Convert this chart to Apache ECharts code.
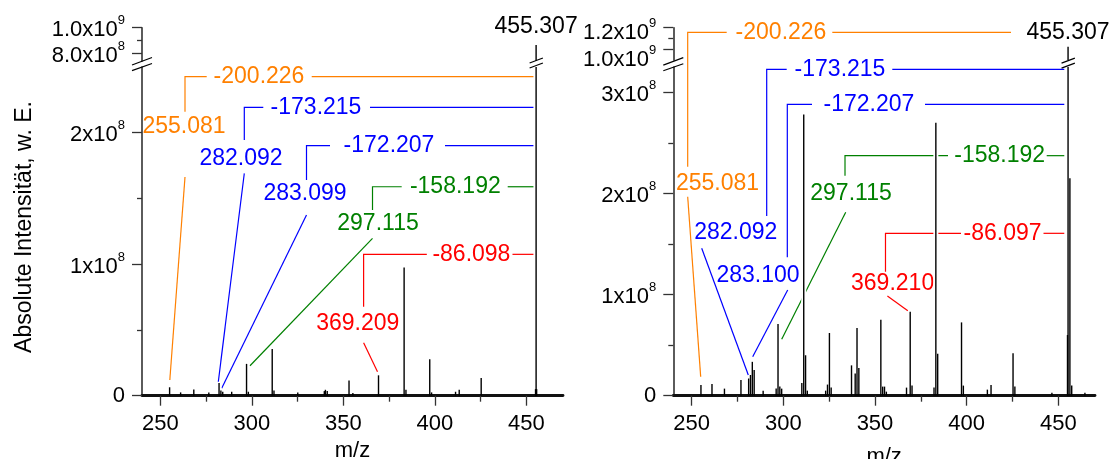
<!DOCTYPE html>
<html><head><meta charset="utf-8">
<script src="https://cdn.jsdelivr.net/npm/echarts@6/dist/echarts.min.js"></script>
<style>html,body{margin:0;padding:0;background:#fff}#c{width:1112px;height:459px}</style>
</head><body><div id="c"></div>
<script>
// ------------------------- DATA -------------------------
const mzMin = 240, mzMax = 470;
const xTicks = [250, 300, 350, 400, 450];
const xMinorTicks = [275, 325, 375, 425];
const xTitle = 'm/z';
const yTitle = 'Absolute Intensität, w. E.';

// left spectrum (stick peaks)
const leftMz = [255.081, 261.1, 268.3, 276.5, 282.092, 283.099, 284.1, 289.0, 297.115, 298.1, 311.14, 312.1, 325.1, 339.6, 340.2, 341.2, 353.1, 355.2, 369.209, 383.2, 384.2, 397.2, 398.2, 411.3, 413.3, 425.3, 455.0, 455.307, 455.6];
const leftIntensity = [6.4e6, 2.5e6, 4.8e6, 2.5e6, 9.7e6, 4.0e6, 3.0e6, 3.0e6, 2.42e7, 3.0e6, 3.55e7, 4.0e6, 2.5e6, 3.5e6, 4.5e6, 3.5e6, 1.15e7, 2.0e6, 1.55e7, 9.75e7, 4.5e6, 2.78e7, 2.5e6, 3.0e6, 4.5e6, 1.35e7, 5.0e6, 8.65e8, 5.0e6];

// right spectrum (stick peaks)
const rightMz = [255.081, 261.1, 267.9, 276.9, 281.1, 282.092, 283.100, 284.1, 289.0, 296.1, 297.115, 298.1, 299.1, 310.1, 311.14, 312.14, 313.1, 323.1, 324.1, 325.15, 326.1, 337.2, 339.2, 340.2, 341.2, 353.2, 354.2, 355.2, 356.2, 367.2, 369.210, 370.2, 382.2, 383.2, 384.2, 397.2, 398.2, 411.3, 413.3, 425.3, 426.3, 446.5, 455.0, 455.307, 456.31, 457.3, 464.5];
const rightIntensity = [1.05e7, 1.15e7, 7e6, 1.55e7, 1.7e7, 2.05e7, 3.35e7, 2.55e7, 5e6, 7e6, 7.1e7, 9e6, 7e6, 1.25e7, 2.78e8, 4.0e7, 5e6, 5e6, 1.1e7, 6.2e7, 8e6, 3.0e7, 2.2e7, 6.7e7, 2.75e7, 7.5e7, 9e6, 9e6, 4e6, 8e6, 8.3e7, 1.0e7, 8e6, 2.70e8, 4.15e7, 7.25e7, 1.0e7, 6e6, 1.05e7, 4.2e7, 9e6, 3e6, 6e7, 1.024e9, 2.15e8, 1.0e7, 3e6];

// y axis ranges (broken axes) and ticks
const leftLowerRange = [0, 2.5e8];
const leftUpperRange = [7.4e8, 1.0e9];
const rightLowerRange = [0, 3.25e8];
const rightUpperRange = [0.9e9, 1.2e9];
const leftLowerTicks = [0, 1e8, 2e8];
const leftLowerTickLabels = ['0', '1x10^8', '2x10^8'];
const leftLowerMinor = [0.5e8, 1.5e8];
const leftUpperTicks = [8e8, 1e9];
const leftUpperTickLabels = ['8.0x10^8', '1.0x10^9'];
const leftUpperMinor = [9e8];
const rightLowerTicks = [0, 1e8, 2e8, 3e8];
const rightLowerTickLabels = ['0', '1x10^8', '2x10^8', '3x10^8'];
const rightLowerMinor = [0.5e8, 1.5e8, 2.5e8];
const rightUpperTicks = [1.0e9, 1.2e9];
const rightUpperTickLabels = ['1.0x10^9', '1.2x10^9'];
const rightUpperMinor = [1.1e9];

// annotations
const parentMz = 455.307;
const parentLabel = '455.307';
const leftFragLabels = ['255.081', '282.092', '283.099', '297.115', '369.209'];
const leftFragDiffs = ['-200.226', '-173.215', '-172.207', '-158.192', '-86.098'];
const rightFragLabels = ['255.081', '282.092', '283.100', '297.115', '369.210'];
const rightFragDiffs = ['-200.226', '-173.215', '-172.207', '-158.192', '-86.097'];

// ------------------------- LAYOUT / STYLE -------------------------
const FONT = '"Liberation Sans", Arial, Helvetica, sans-serif';
const ANN_FONT_SIZE = 23;
const TICK_FONT_SIZE = 22;
const fragColors = ['#FF8000', '#0000FF', '#0000FF', '#008000', '#FF0000'];
// annotation geometry in data units: [m/z, intensity in 1e6]
const leftAnnLayout = [
  {slant: [[255.2, 12], [263.49, 166.3]], label: [262.95, 204.3], stem: [263.49, 216, 242.6], gap: [275.35, 332.71], text: 303.92, end: 454.0},
  {slant: [[281.68, 10.6], [295.89, 169.1]], label: [294.09, 180.5], stem: [295.89, 194.4, 219.3], gap: [306.27, 364.56], text: 335.06, end: 454.0},
  {slant: [[283.54, 5.6], [329.87, 137.4]], label: [329.05, 153.9], stem: [329.87, 164.0, 190.1], gap: [342.71, 405.54], text: 374.94, end: 454.0},
  {slant: [[299.0, 22.8], [365.93, 119.7]], label: [368.93, 130.6], stem: [365.93, 141.2, 158.9], gap: [381.88, 439.79], text: 411.17, end: 454.0},
  {slant: [[361.07, 40.3], [368.66, 18.25]], label: [357.84, 55.06], stem: [361.07, 67.7, 107.5], gap: [395.6, 442.4], text: 419.96, end: 454.0}
];
const leftParentAt = [455.307, 280.4];
const rightAnnLayout = [
  {slant: [[254.94, 18.8], [247.85, 196.8]], label: [264.11, 210.1], stem: [247.85, 226.5, 359.4], gap: [269.12, 326.72], text: 298.74, end: 424.18},
  {slant: [[280.91, 20.5], [255.49, 145.8]], label: [274.09, 161.6], stem: [290.94, 177.7, 322.8], gap: [301.85, 359.44], text: 330.92, end: 453.25},
  {slant: [[283.3, 38.6], [302.39, 104.5]], label: [286.2, 118.4], stem: [302.18, 136.9, 288.2], gap: [315.65, 377.28], text: 346.73, end: 453.25},
  {slant: [[299.12, 55.8], [334.03, 181.4]], label: [336.92, 200.2], stem: [333.65, 217.6, 237.4], gap: [389.82, 443.65], text: 418.02, end: 453.25},
  {slant: [[356.77, 98.6], [367.9, 84.1]], label: [359.61, 111.2], stem: [355.73, 122.7, 160.6], gap: [396.91, 441.91], text: 419.55, end: 453.25}
];
const rightParentAt = [455.307, 359.4];
const BREAK_AXIS = [[-10, 3.7, 10, -3.4], [-10, -2, 10, -9.5]];
const BREAK_PEAK = [[-6.5, 1, 6.8, -4], [-6.5, -4, 6.8, -9]];
const AXIS_COLOR = '#333';

const RICH = {
  a: {fontSize: TICK_FONT_SIZE, lineHeight: 27, verticalAlign: 'bottom', fontFamily: FONT, color: '#000'},
  s: {fontSize: 13, lineHeight: 13, verticalAlign: 'top', fontFamily: FONT, color: '#000'},
  z: {fontSize: TICK_FONT_SIZE, lineHeight: 27, fontFamily: FONT, color: '#000'}
};

function tickFmt(ticks, labels) {
  return function (v) {
    const k = ticks.findIndex(t => Math.abs(t - v) <= 1e-6 * Math.max(1, Math.abs(t)));
    const s = k >= 0 ? labels[k] : '';
    const m = s.split('^');
    return m.length > 1 ? '{a|' + m[0] + '}{s|' + m[1] + '}' : '{z|' + s + '}';
  };
}

// main y axis: line + major ticks + labels at labelValues
function yMain(grid, range, ticks, labels, labelValues, padTop, showLine) {
  return {
    type: 'value', gridIndex: grid, min: range[0], max: range[1], position: 'left',
    axisLine: {show: showLine, onZero: false, lineStyle: {color: AXIS_COLOR, width: 1.6}},
    axisTick: {show: showLine, inside: false, length: 10, customValues: ticks, lineStyle: {color: AXIS_COLOR, width: 1.3}},
    axisLabel: {show: true, customValues: labelValues, margin: 17, hideOverlap: false,
      padding: [padTop || 0, 0, 0, 0], formatter: tickFmt(ticks, labels), rich: RICH},
    splitLine: {show: false}
  };
}
function yMinor(grid, range, ticks) {
  return {
    type: 'value', gridIndex: grid, min: range[0], max: range[1], position: 'left',
    axisLine: {show: false},
    axisTick: {show: true, inside: false, length: 5, customValues: ticks, lineStyle: {color: AXIS_COLOR, width: 1.3}},
    axisLabel: {show: false}, splitLine: {show: false}
  };
}
function xMain(grid, nameGap) {
  return {
    type: 'value', gridIndex: grid, min: mzMin, max: mzMax, position: 'bottom',
    axisLine: {show: true, onZero: false, lineStyle: {color: '#111', width: 2.8}},
    axisTick: {show: true, length: 10, customValues: xTicks, lineStyle: {color: AXIS_COLOR, width: 1.3}},
    axisLabel: {show: true, customValues: xTicks, margin: 17, hideOverlap: false, fontSize: TICK_FONT_SIZE, fontFamily: FONT, color: '#000'},
    splitLine: {show: false},
    name: xTitle, nameLocation: 'middle', nameGap: nameGap,
    nameTextStyle: {fontSize: TICK_FONT_SIZE, fontFamily: FONT, color: '#000', verticalAlign: 'middle'}
  };
}
function xMinor(grid) {
  return {
    type: 'value', gridIndex: grid, min: mzMin, max: mzMax, position: 'bottom',
    axisLine: {show: false},
    axisTick: {show: true, length: 6, customValues: xMinorTicks, lineStyle: {color: AXIS_COLOR, width: 1.3}},
    axisLabel: {show: false}, splitLine: {show: false}
  };
}
function xHidden(grid) {
  return {type: 'value', gridIndex: grid, min: mzMin, max: mzMax, show: false, splitLine: {show: false}};
}

function peakRenderer(halo) {
  return function (params, api) {
    const cs = params.coordSys;
    const mz = api.value(0), v = api.value(1);
    const pBase = api.coord([mz, 0]);
    const pTop = api.coord([mz, v]);
    const top = cs.y, bottom = cs.y + cs.height;
    let y0 = Math.min(pBase[1], bottom);
    if (halo) y0 -= 3;
    const y1 = Math.max(pTop[1], top);
    if (y1 >= y0) return null;
    const x = pBase[0];
    return {type: 'line', silent: true, shape: {x1: x, y1: y0, x2: x, y2: y1},
      style: {stroke: halo ? '#fff' : '#000', lineWidth: halo ? 5 : 1.4}};
  };
}
function breakRenderer(params, api) {
  const p = api.coord([api.value(0), api.value(1)]);
  const segs = api.value(2) === 0 ? BREAK_AXIS : BREAK_PEAK;
  return {type: 'group', children: segs.map(s => ({type: 'line', silent: true,
    shape: {x1: p[0] + s[0], y1: p[1] + s[1], x2: p[0] + s[2], y2: p[1] + s[3]},
    style: {stroke: '#000', lineWidth: 1.2}}))};
}
function annRenderer(layout, labels, diffs, parentAt) {
  return function (params, api) {
    const i = api.value(2);
    const P = (mz, I) => api.coord([mz, I * 1e6]);
    const txt = (s, p, color) => ({type: 'text', x: p[0], y: p[1], silent: true,
      style: {text: s, fill: color, fontSize: ANN_FONT_SIZE, fontFamily: FONT, align: 'center', verticalAlign: 'middle'}});
    if (i < 0) return txt(parentLabel, P(parentAt[0], parentAt[1]), '#000');
    const a = layout[i], col = fragColors[i];
    const ln = pts => ({type: 'polyline', silent: true, shape: {points: pts.map(q => P(q[0], q[1]))},
      style: {stroke: col, lineWidth: 1.2, fill: null}});
    const lev = a.stem[2];
    return {type: 'group', children: [
      ln(a.slant),
      ln([[a.stem[0], a.stem[1]], [a.stem[0], lev], [a.gap[0], lev]]),
      ln([[a.gap[1], lev], [a.end, lev]]),
      txt(labels[i], P(a.label[0], a.label[1]), col),
      txt(diffs[i], P(a.text, lev), col)
    ]};
  };
}

const leftData = leftMz.map((m, i) => [m, leftIntensity[i]]);
const rightData = rightMz.map((m, i) => [m, rightIntensity[i]]);
function annData(layout, parentAt) {
  return layout.map((a, i) => [a.label[0], a.label[1] * 1e6, i]).concat([[parentAt[0], parentAt[1] * 1e6, -1]]);
}
function customSeries(xi, yi, data, render, z) {
  return {type: 'custom', xAxisIndex: xi, yAxisIndex: yi, data: data, renderItem: render, z: z,
    encode: {x: 0, y: 1}, silent: true, animation: false, clip: false};
}
function grid(left, top, width, height) {
  return {left: left, top: top, width: width, height: height, containLabel: false, outerBoundsMode: 'none'};
}

const chart = echarts.init(document.getElementById('c'), null, {renderer: 'canvas'});
chart.setOption({
  animation: false,
  backgroundColor: '#fff',
  textStyle: {fontFamily: FONT},
  grid: [
    grid(142, 66.95, 421, 328.75),
    grid(142, 27.7, 421, 33.3),
    grid(673.3, 67.1, 421.7, 328.6),
    grid(673.3, 27.7, 421.7, 32.4)
  ],
  xAxis: [xMain(0, 51), xMinor(0), xHidden(1), xMain(2, 61), xMinor(2), xHidden(3)],
  yAxis: [
    // 0,1: left lower
    yMain(0, leftLowerRange, leftLowerTicks, leftLowerTickLabels, leftLowerTicks, 0, true), yMinor(0, leftLowerRange, leftLowerMinor),
    // 2,3,4: left upper
    yMain(1, leftUpperRange, leftUpperTicks, leftUpperTickLabels, [leftUpperTicks[0]], 0, true),
    yMain(1, leftUpperRange, leftUpperTicks, leftUpperTickLabels, [leftUpperTicks[1]], 0, false),
    yMinor(1, leftUpperRange, leftUpperMinor),
    // 5,6: right lower
    yMain(2, rightLowerRange, rightLowerTicks, rightLowerTickLabels, rightLowerTicks, 0, true), yMinor(2, rightLowerRange, rightLowerMinor),
    // 7,8,9: right upper
    yMain(3, rightUpperRange, rightUpperTicks, rightUpperTickLabels, [rightUpperTicks[0]], 17, true),
    yMain(3, rightUpperRange, rightUpperTicks, rightUpperTickLabels, [rightUpperTicks[1]], 5, false),
    yMinor(3, rightUpperRange, rightUpperMinor)
  ],
  graphic: [{type: 'text', x: 25, y: 227, rotation: Math.PI / 2, silent: true,
    style: {text: yTitle, fontSize: ANN_FONT_SIZE, fontFamily: FONT, fill: '#000', align: 'center', verticalAlign: 'middle'}}],
  series: [
    customSeries(0, 0, annData(leftAnnLayout, leftParentAt), annRenderer(leftAnnLayout, leftFragLabels, leftFragDiffs, leftParentAt), 1),
    customSeries(0, 0, leftData, peakRenderer(true), 2),
    customSeries(0, 0, leftData, peakRenderer(false), 3),
    customSeries(2, 2, leftData, peakRenderer(false), 3),
    customSeries(0, 0, [[mzMin, leftLowerRange[1], 0], [parentMz, leftLowerRange[1], 1]], breakRenderer, 4),
    customSeries(3, 5, annData(rightAnnLayout, rightParentAt), annRenderer(rightAnnLayout, rightFragLabels, rightFragDiffs, rightParentAt), 1),
    customSeries(3, 5, rightData, peakRenderer(true), 2),
    customSeries(3, 5, rightData, peakRenderer(false), 3),
    customSeries(5, 7, rightData, peakRenderer(false), 3),
    customSeries(3, 5, [[mzMin, rightLowerRange[1], 0], [parentMz, rightLowerRange[1], 1]], breakRenderer, 4)
  ]
});
</script></body></html>
